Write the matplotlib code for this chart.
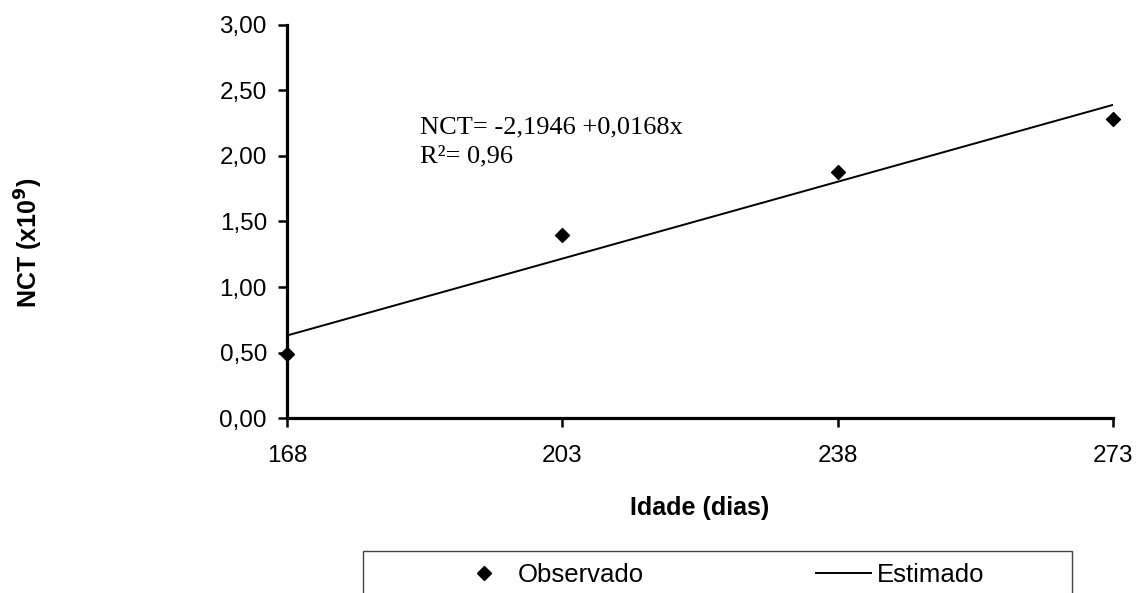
import matplotlib.pyplot as plt
from matplotlib.lines import Line2D
from matplotlib.patches import Rectangle

# dados
idade = [168, 203, 238, 273]
nct_obs = [0.49, 1.40, 1.88, 2.28]
idade_est = [168, 273]
nct_est = [0.63, 2.39]
yticks = [0.0, 0.5, 1.0, 1.5, 2.0, 2.5, 3.0]

plt.rcParams['font.family'] = ['Liberation Sans', 'DejaVu Sans']

fig = plt.figure(figsize=(11.39, 5.93), dpi=100)
ax = fig.add_axes([0.252, 0.295, 0.7252, 0.663])

ax.plot(idade_est, nct_est, color='black', lw=1.4)
ax.scatter(idade, nct_obs, marker='D', s=50, color='black', zorder=3,
           clip_on=False)

ax.set_xlim(168, 273)
ax.set_ylim(0, 3.0)
ax.set_xticks(idade)
ax.set_yticks(yticks)
ax.set_yticklabels([f'{v:.2f}'.replace('.', ',') for v in yticks])
ax.tick_params(labelsize=17.5, width=1.8, length=6.5, direction='out')
ax.tick_params(axis='x', pad=13)
ax.tick_params(axis='y', pad=8)
for s in ['top', 'right']:
    ax.spines[s].set_visible(False)
for s in ['left', 'bottom']:
    ax.spines[s].set_linewidth(2.3)

ax.set_xlabel('Idade (dias)', fontsize=18, fontweight='bold', labelpad=21)
fig.text(0.0255, 0.59, r'NCT (x10$^\mathbf{9}$)', rotation=90, fontsize=18,
         fontweight='bold', ha='center', va='center')

ax.text(0.161, 0.725, 'NCT= -2,1946 +0,0168x', transform=ax.transAxes,
        fontsize=19, family='Liberation Serif', va='baseline')
ax.text(0.161, 0.649, 'R²= 0,96', transform=ax.transAxes,
        fontsize=19, family='Liberation Serif', va='baseline')

# caixa da legenda (cortada na parte de baixo, como no original)
fig.patches.append(Rectangle((0.3187, -0.05), 0.6225, 0.1208,
                             transform=fig.transFigure, fill=False,
                             edgecolor='#444444', lw=1))
handles = [Line2D([], [], marker='D', color='black', ls='none', markersize=7.5),
           Line2D([], [], color='black', lw=1.4)]
fig.legend(handles, ['Observado', 'Estimado'], ncol=2, fontsize=18.5,
           loc='center left', bbox_to_anchor=(0.4012, 0.0304),
           frameon=False, borderpad=0, borderaxespad=0,
           handlelength=2.14, handletextpad=0.23, columnspacing=6.7)

fig.savefig('out.png', dpi=100)
